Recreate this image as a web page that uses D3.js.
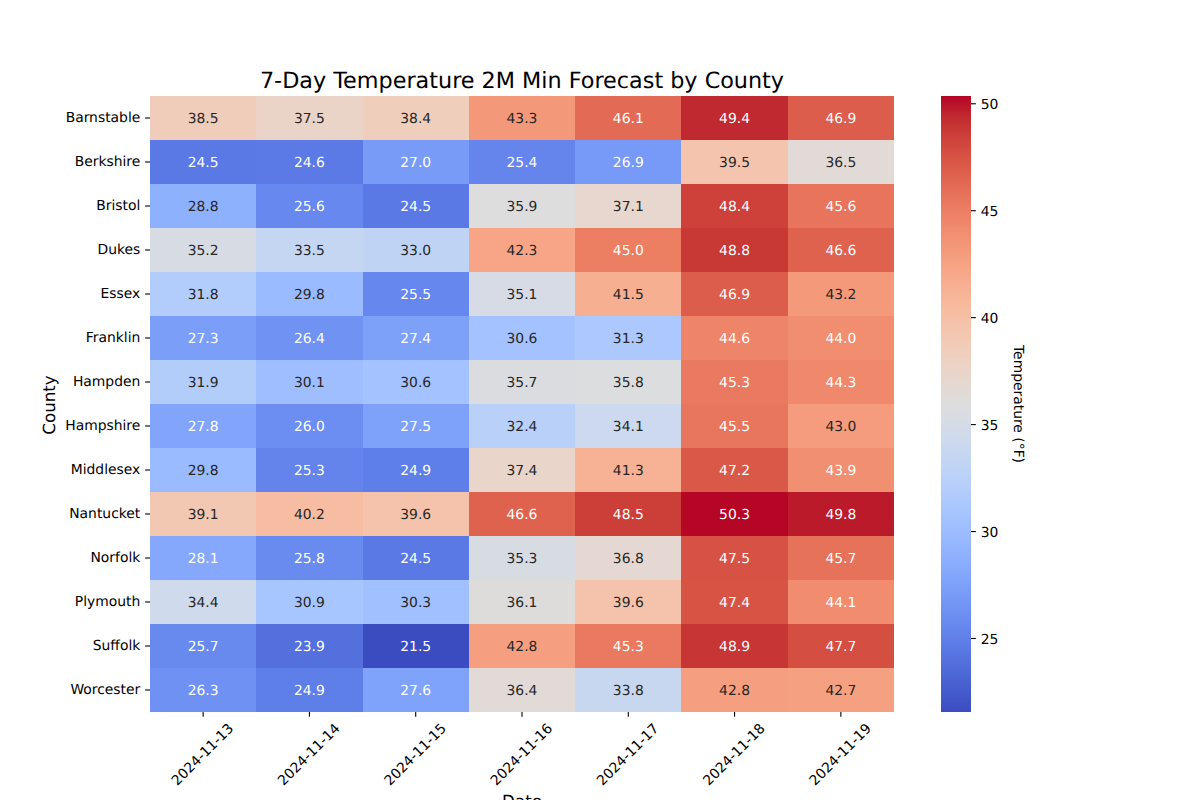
<!DOCTYPE html>
<html lang="en">

<head>
	<meta charset="UTF-8">
	<script src="https://d3js.org/d3.v7.min.js"></script>
	<title>7-Day Temperature 2M Min Forecast by County</title>
	<style>
		html, body {
			margin: 0;
			padding: 0;
			background: white;
			overflow: hidden;
		}

		svg {
			display: block;
		}

		text {
			font-family: "DejaVu Sans", sans-serif;
			fill: black;
			text-rendering: geometricPrecision;
		}
	</style>
</head>

<body>
	<script>
		const counties = ["Barnstable", "Berkshire", "Bristol", "Dukes", "Essex", "Franklin", "Hampden",
			"Hampshire", "Middlesex", "Nantucket", "Norfolk", "Plymouth", "Suffolk", "Worcester"];
		const dates = ["2024-11-13", "2024-11-14", "2024-11-15", "2024-11-16", "2024-11-17", "2024-11-18", "2024-11-19"];
		// one row per county, one value per date
		const temps = [
			[38.5, 37.5, 38.4, 43.3, 46.1, 49.4, 46.9],
			[24.5, 24.6, 27.0, 25.4, 26.9, 39.5, 36.5],
			[28.8, 25.6, 24.5, 35.9, 37.1, 48.4, 45.6],
			[35.2, 33.5, 33.0, 42.3, 45.0, 48.8, 46.6],
			[31.8, 29.8, 25.5, 35.1, 41.5, 46.9, 43.2],
			[27.3, 26.4, 27.4, 30.6, 31.3, 44.6, 44.0],
			[31.9, 30.1, 30.6, 35.7, 35.8, 45.3, 44.3],
			[27.8, 26.0, 27.5, 32.4, 34.1, 45.5, 43.0],
			[29.8, 25.3, 24.9, 37.4, 41.3, 47.2, 43.9],
			[39.1, 40.2, 39.6, 46.6, 48.5, 50.3, 49.8],
			[28.1, 25.8, 24.5, 35.3, 36.8, 47.5, 45.7],
			[34.4, 30.9, 30.3, 36.1, 39.6, 47.4, 44.1],
			[25.7, 23.9, 21.5, 42.8, 45.3, 48.9, 47.7],
			[26.3, 24.9, 27.6, 36.4, 33.8, 42.8, 42.7]
		];
		const cbarTicks = [25, 30, 35, 40, 45, 50];
		// colorbar ends (labels above are rounded)
		const tempMin = 21.54;
		const tempMax = 50.34;
		// coolwarm colormap stops
		const coolwarm = ["#3b4cc0", "#445acc", "#4d68d7", "#5775e1", "#6282ea", "#6c8ef1", "#779af7", "#82a5fb",
			"#8db0fe", "#98b9ff", "#a3c2ff", "#aec9fd", "#b8d0f9", "#c2d5f4", "#ccd9ee", "#d5dbe6",
			"#dddddd", "#e5d8d1", "#ecd3c5", "#f1ccb9", "#f5c4ad", "#f7bba0", "#f7b194", "#f7a687",
			"#f49a7b", "#f18d6f", "#ec7f63", "#e57058", "#de604d", "#d55042", "#cb3e38", "#c0282f", "#b40426"];

		const width = 1200, height = 800;
		const plot = { left: 150, right: 894, top: 96, bottom: 712 };
		const cbar = { left: 941, right: 971 };

		const color = d3.scaleLinear()
			.domain(coolwarm.map((c, i) => tempMin + (tempMax - tempMin) * i / (coolwarm.length - 1)))
			.range(coolwarm)
			.clamp(true);

		const svg = d3.select("body").append("svg")
			.attr("width", width)
			.attr("height", height);

		const x = d3.scaleBand().domain(dates).range([plot.left, plot.right]);
		const y = d3.scaleBand().domain(counties).range([plot.top, plot.bottom]);
		const cy = d3.scaleLinear().domain([tempMin, tempMax]).range([plot.bottom, plot.top]);

		/*----------------cells----------------------*/
		const cells = temps.flatMap((row, i) => row.map((v, j) => ({ county: counties[i], date: dates[j], value: v })));

		svg.append("g").selectAll("rect")
			.data(cells)
			.enter()
			.append("rect")
			.attr("x", d => x(d.date))
			.attr("y", d => y(d.county))
			.attr("width", x.bandwidth())
			.attr("height", y.bandwidth())
			.attr("fill", d => color(d.value))
			.attr("shape-rendering", "crispEdges");

		// same rule seaborn uses for annotation colour
		function luminance(c) {
			const rgb = d3.rgb(c);
			const f = v => {
				v = v / 255;
				return v <= 0.03928 ? v / 12.92 : Math.pow((v + 0.055) / 1.055, 2.4);
			};
			return 0.2126 * f(rgb.r) + 0.7152 * f(rgb.g) + 0.0722 * f(rgb.b);
		}

		svg.append("g").selectAll("text")
			.data(cells)
			.enter()
			.append("text")
			.attr("x", d => x(d.date) + x.bandwidth() / 2)
			.attr("y", d => y(d.county) + y.bandwidth() / 2)
			.attr("dy", "0.36em")
			.attr("text-anchor", "middle")
			.style("font-size", "13.89px")
			.style("fill", d => luminance(color(d.value)) < 0.408 ? "#ffffff" : "#262626")
			.text(d => d.value.toFixed(1));

		/*----------------axes----------------------*/
		const xAxis = svg.append("g")
			.attr("transform", `translate(0,${plot.bottom})`)
			.call(d3.axisBottom(x).tickSize(4.86).tickPadding(4.86));
		xAxis.select(".domain").remove();
		xAxis.selectAll("line").attr("stroke-width", 1.1);
		xAxis.selectAll("text")
			.style("font-size", "13.89px")
			.attr("text-anchor", "middle")
			.attr("dy", null)
			.attr("y", 0)
			.attr("transform", "translate(0,43) rotate(-45)")
			.attr("dominant-baseline", "middle");

		const yAxis = svg.append("g")
			.attr("transform", `translate(${plot.left},0)`)
			.call(d3.axisLeft(y).tickSize(4.86).tickPadding(4.86));
		yAxis.select(".domain").remove();
		yAxis.selectAll("line").attr("stroke-width", 1.1);
		yAxis.selectAll("text").style("font-size", "13.89px");

		svg.append("text")
			.attr("x", (plot.left + plot.right) / 2)
			.attr("y", 88)
			.attr("text-anchor", "middle")
			.style("font-size", "22.3px")
			.text("7-Day Temperature 2M Min Forecast by County");

		svg.append("text")
			.attr("x", (plot.left + plot.right) / 2)
			.attr("y", 807)
			.attr("text-anchor", "middle")
			.style("font-size", "16.67px")
			.text("Date");

		svg.append("text")
			.attr("transform", `translate(55,405) rotate(-90)`)
			.attr("text-anchor", "middle")
			.style("font-size", "16.67px")
			.text("County");

		/*----------------colorbar----------------------*/
		const grad = svg.append("defs").append("linearGradient")
			.attr("id", "cbar-grad")
			.attr("x1", 0).attr("x2", 0)
			.attr("y1", 1).attr("y2", 0);
		grad.selectAll("stop")
			.data(coolwarm)
			.enter()
			.append("stop")
			.attr("offset", (d, i) => i / (coolwarm.length - 1))
			.attr("stop-color", d => d);

		svg.append("rect")
			.attr("x", cbar.left)
			.attr("y", plot.top)
			.attr("width", cbar.right - cbar.left)
			.attr("height", plot.bottom - plot.top)
			.attr("fill", "url(#cbar-grad)");

		const cAxis = svg.append("g")
			.attr("transform", `translate(${cbar.right},0)`)
			.call(d3.axisRight(cy).tickValues(cbarTicks).tickSize(4.86).tickPadding(4.86));
		cAxis.select(".domain").remove();
		cAxis.selectAll("line").attr("stroke-width", 1.1);
		cAxis.selectAll("text").style("font-size", "13.89px").attr("dy", "0.38em");

		svg.append("text")
			.attr("transform", `translate(1014,${(plot.top + plot.bottom) / 2}) rotate(90)`)
			.attr("text-anchor", "middle")
			.style("font-size", "13.89px")
			.text("Temperature (°F)");
	</script>
</body>

</html>
